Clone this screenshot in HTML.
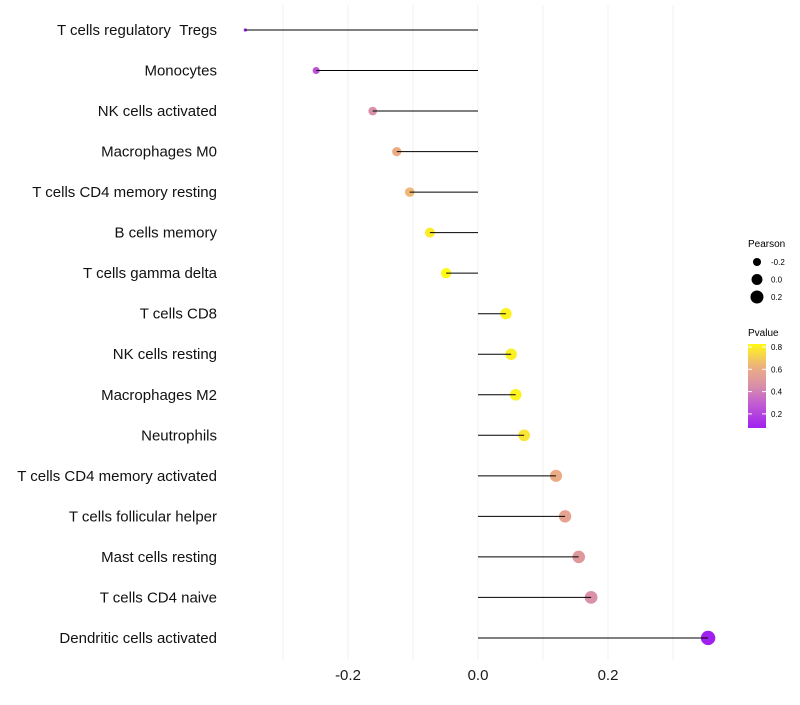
<!DOCTYPE html>
<html><head><meta charset="utf-8"><style>
body{margin:0;background:#fff}
svg{font-family:"Liberation Sans",sans-serif}
</style></head><body>
<svg id="chart" width="800" height="700"></svg>
<script>
const categories=["T cells regulatory \u00a0Tregs","Monocytes","NK cells activated","Macrophages M0","T cells CD4 memory resting","B cells memory","T cells gamma delta","T cells CD8","NK cells resting","Macrophages M2","Neutrophils","T cells CD4 memory activated","T cells follicular helper","Mast cells resting","T cells CD4 naive","Dendritic cells activated"];
const pearson=[-0.358,-0.249,-0.162,-0.125,-0.105,-0.074,-0.049,0.043,0.051,0.058,0.071,0.12,0.134,0.155,0.174,0.354];
const pvalue=[0.07,0.25,0.45,0.6,0.64,0.78,0.82,0.8,0.79,0.8,0.76,0.6,0.55,0.5,0.45,0.07];
const xTicks=[-0.2,0,0.2];
const xTickLabels=["-0.2","0.0","0.2"];
const sizeLegend=[-0.2,0,0.2];
const colorTicks=[0.8,0.6,0.4,0.2];

const NS="http://www.w3.org/2000/svg";
const svg=document.getElementById('chart');
function mk(t,a,p){const e=document.createElementNS(NS,t);for(const k in a)e.setAttribute(k,a[k]);(p||svg).appendChild(e);return e;}
const x=v=>478+v*650;
const y=i=>30+i*40.53;
const pmin=Math.min(...pearson),pmax=Math.max(...pearson);
const r=v=>Math.max(1.6,1.2*(1+5*Math.sqrt(Math.max(0,(v-pmin)/(pmax-pmin)))));
const stops=[[0.07,[160,32,240]],[0.3,[196,96,208]],[0.45,[217,144,168]],[0.62,[237,176,128]],[0.82,[255,250,20]]];
function col(p){if(p<=stops[0][0])return`rgb(${stops[0][1]})`;for(let i=1;i<stops.length;i++){if(p<=stops[i][0]){const a=stops[i-1],b=stops[i],t=(p-a[0])/(b[0]-a[0]);return`rgb(${a[1].map((c,j)=>Math.round(c+(b[1][j]-c)*t))})`;}}return`rgb(${stops[stops.length-1][1]})`;}

// grid
[-0.3,-0.2,-0.1,0,0.1,0.2,0.3].forEach(v=>{const g=mk('line',{x1:x(v),x2:x(v),y1:5,y2:660,stroke:'#f0f0f0','stroke-width':1});

});
xTicks.forEach((v,i)=>{const t=mk('text',{x:x(v),y:680,'text-anchor':'middle','font-size':15,fill:'#1a1a1a'});t.textContent=xTickLabels[i];

});

categories.forEach((c,i)=>{
 const t=mk('text',{x:217,y:y(i)+5,'text-anchor':'end','font-size':15,fill:'#111'});t.textContent=c;
 
 
 const pt=mk('circle',{cx:x(pearson[i]),cy:y(i),r:r(pearson[i]),fill:col(pvalue[i])});
 
 
 const l=mk('line',{x1:x(0),x2:x(pearson[i]),y1:y(i),y2:y(i),stroke:'#000','stroke-width':1});
 
 
});

// legends
const lt=mk('text',{x:748,y:247,'font-size':10});lt.textContent='Pearson';


sizeLegend.forEach((v,i)=>{const cy=262+i*17.5;
 const c=mk('circle',{cx:757,cy:cy,r:r(v),fill:'#000'});
 
 
 const t=mk('text',{x:771,y:cy+3,'font-size':8});t.textContent=v.toFixed(1);
 
 });
const pt2=mk('text',{x:748,y:336,'font-size':10});pt2.textContent='Pvalue';


const defs=mk('defs',{});const lg=mk('linearGradient',{id:'g',x1:0,y1:1,x2:0,y2:0},defs);
for(let k=0;k<=10;k++){const p=0.07+k*0.075;mk('stop',{offset:k/10,'stop-color':col(p)},lg);}
const bar=mk('rect',{x:748,y:344,width:18,height:84,fill:'url(#g)'});


const py=p=>347+(0.8-p)/0.2*22.3;
colorTicks.forEach(p=>{mk('line',{x1:748,x2:752,y1:py(p),y2:py(p),stroke:'#fff'});mk('line',{x1:762,x2:766,y1:py(p),y2:py(p),stroke:'#fff'});
 const t=mk('text',{x:771,y:py(p)+3,'font-size':8});t.textContent=p.toFixed(1);
 
 });
</script>
</body></html>
